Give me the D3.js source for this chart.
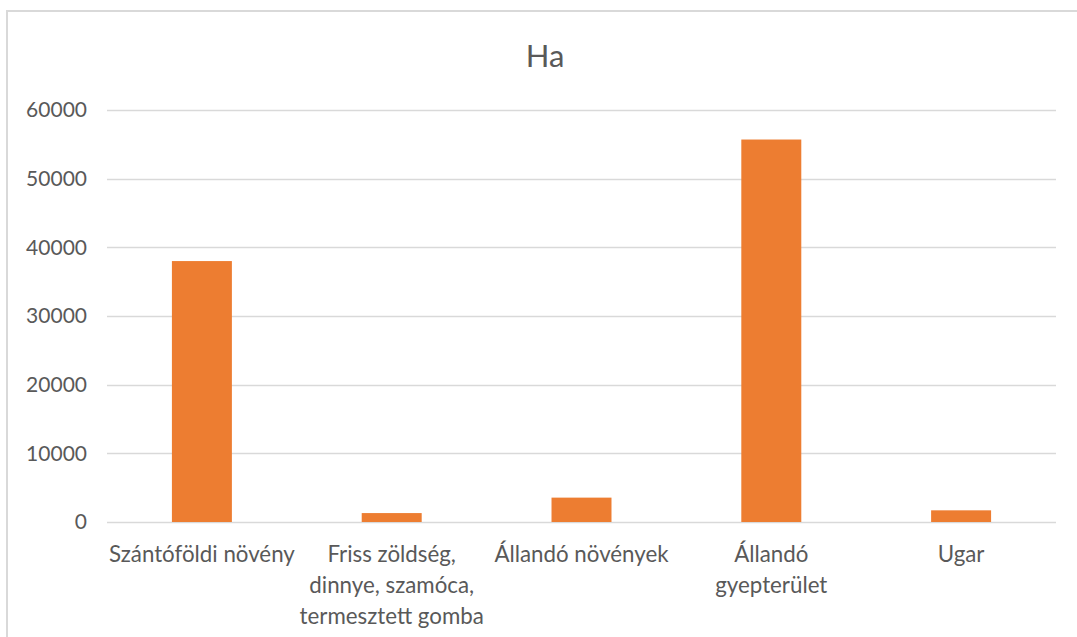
<!DOCTYPE html>
<html>
<head>
<meta charset="utf-8">
<script src="https://cdn.jsdelivr.net/npm/d3@7"></script>
<style>
  html, body { margin: 0; padding: 0; background: #fff; }
  svg { display: block; }
  text { font-family: "Lato", "Open Sans", sans-serif; fill: #595959; }
</style>
</head>
<body>
<svg id="chart" width="1077" height="637"></svg>
<script>
const title = "Ha";
const categories = [
  ["Szántóföldi növény"],
  ["Friss zöldség,", "dinnye, szamóca,", "termesztett gomba"],
  ["Állandó növények"],
  ["Állandó", "gyepterület"],
  ["Ugar"]
];
const values = [38000, 1300, 3550, 55700, 1700];
const yTicks = [0, 10000, 20000, 30000, 40000, 50000, 60000];

const svg = d3.select("#chart");
const W = 1077, H = 637;
const m = { left: 107, right: 1056, top: 110, bottom: 522 };

// outer chart border
svg.append("rect")
  .attr("x", 7).attr("y", 11)
  .attr("width", W + 20).attr("height", H + 20)
  .attr("fill", "none").attr("stroke", "#d9d9d9").attr("stroke-width", 2);

const x = d3.scaleBand().domain(d3.range(categories.length)).range([m.left, m.right]).padding(0);
const y = d3.scaleLinear().domain([0, 60000]).range([m.bottom, m.top]);

// gridlines
svg.append("g").selectAll("line").data(yTicks).join("line")
  .attr("x1", m.left).attr("x2", m.right)
  .attr("y1", d => Math.round(y(d)) + 0.5).attr("y2", d => Math.round(y(d)) + 0.5)
  .attr("stroke", "#d9d9d9").attr("stroke-width", 1.5);

// y axis labels
const yAxis = d3.axisLeft(y).tickValues(yTicks).tickSize(0).tickPadding(0).tickFormat(d3.format("d"));
const ya = svg.append("g").attr("transform", `translate(87,0)`).call(yAxis);
ya.select(".domain").remove();
ya.selectAll("text").attr("font-size", 21).attr("font-family", "Lato").attr("fill", "#595959");

// bars
const barW = x.bandwidth() * 0.316;
svg.append("g").selectAll("rect").data(values).join("rect")
  .attr("x", (d, i) => x(i) + x.bandwidth() / 2 - barW / 2)
  .attr("width", barW)
  .attr("y", d => y(d))
  .attr("height", d => y(0) - y(d))
  .attr("fill", "#ED7D31");

// category labels
const cl = svg.append("g").selectAll("text").data(categories).join("text")
  .attr("text-anchor", "middle")
  .attr("font-size", 22.3)
  .attr("x", (d, i) => x(i) + x.bandwidth() / 2)
  .attr("y", 562);
cl.selectAll("tspan").data(d => d).join("tspan")
  .attr("x", function() { return d3.select(this.parentNode).attr("x"); })
  .attr("dy", (d, i) => i === 0 ? 0 : 31)
  .text(d => d);

// title
svg.append("text")
  .attr("x", 545).attr("y", 67)
  .attr("text-anchor", "middle")
  .attr("font-size", 31)
  .text(title);
</script>
</body>
</html>
